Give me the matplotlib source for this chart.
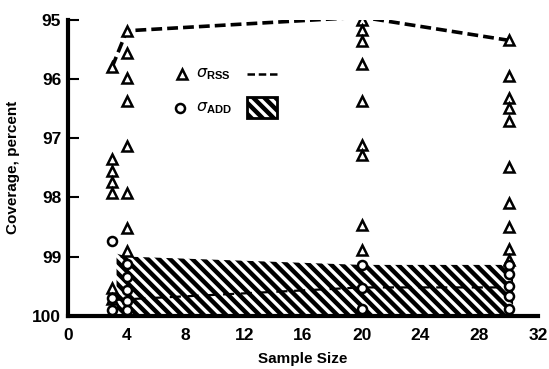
import matplotlib
matplotlib.use("Agg")
import matplotlib.pyplot as plt
from matplotlib.patches import Rectangle

plt.rcParams['font.family'] = ['Liberation Sans Narrow', 'Liberation Sans', 'DejaVu Sans']
plt.rcParams['mathtext.fontset'] = 'custom'
plt.rcParams['mathtext.rm'] = 'Liberation Sans'
plt.rcParams['mathtext.bf'] = 'Liberation Sans:bold'
plt.rcParams['hatch.linewidth'] = 3.2

# sigma_RSS points (triangles)
rss_x = [3] * 7 + [4] * 8 + [20] * 9 + [30] * 10
rss_y = [95.80, 97.35, 97.55, 97.74, 97.92, 99.53, 99.72,
         95.19, 95.57, 95.99, 96.37, 97.13, 97.92, 98.52, 98.90,
         95.00, 95.18, 95.37, 95.75, 96.37, 97.12, 97.28, 98.47, 98.89,
         95.35, 95.95, 96.32, 96.50, 96.72, 97.48, 98.10, 98.50, 98.88, 99.05]

# sigma_ADD points (circles)
add_x = [3] * 3 + [4] * 5 + [20] * 3 + [30] * 5
add_y = [98.74, 99.70, 99.90,
         99.12, 99.34, 99.56, 99.75, 99.90,
         99.14, 99.53, 99.88,
         99.15, 99.30, 99.50, 99.66, 99.88]

# dashed sigma_RSS envelope
rss_line_x = [3, 4, 20, 30]
rss_line_y = [95.80, 95.19, 94.96, 95.35]

# hatched sigma_ADD band and its inner dashed line
band_x = [3.3, 4, 20, 30.3]
band_top = [98.95, 99.00, 99.14, 99.14]
band_mid = [99.73, 99.72, 99.52, 99.52]

fig = plt.figure(figsize=(5.49, 3.69), dpi=100)
ax = fig.add_axes([0.124, 0.144, 0.856, 0.803])

ax.fill_between(band_x, band_top, 100, facecolor='white', edgecolor='black',
                hatch='\\\\\\', linewidth=0)
ax.plot(band_x, band_mid, color='black', lw=1.6, ls=(0, (5, 3)))
ax.plot(rss_line_x, rss_line_y, color='black', lw=2.6, ls=(0, (3, 1.4)))
ax.plot(rss_x, rss_y, ls='none', marker='^', ms=7, mfc='white', mec='black', mew=1.8)
ax.plot(add_x, add_y, ls='none', marker='o', ms=6.5, mfc='white', mec='black', mew=1.8)

# legend
ax.plot([0.243], [0.816], transform=ax.transAxes, marker='^', ms=7, mfc='white',
        mec='black', mew=1.8, clip_on=False)
ax.text(0.272, 0.816, r'$\sigma_{\mathbf{RSS}}$', transform=ax.transAxes,
        va='center', ha='left', fontsize=11.5)
ax.plot([0.381, 0.447], [0.816, 0.816], transform=ax.transAxes, color='black',
        lw=1.8, ls=(0, (3, 1.5)))
ax.plot([0.238], [0.702], transform=ax.transAxes, marker='o', ms=6.5, mfc='white',
        mec='black', mew=1.8, clip_on=False)
ax.text(0.272, 0.700, r'$\sigma_{\mathbf{ADD}}$', transform=ax.transAxes,
        va='center', ha='left', fontsize=11.5)
ax.add_patch(Rectangle((0.381, 0.668), 0.064, 0.071, transform=ax.transAxes,
                       facecolor='white', edgecolor='black', lw=2, hatch='\\\\\\'))

ax.set_xlim(0, 32)
ax.set_ylim(100, 95)
ax.set_xticks(range(0, 33, 4))
ax.set_yticks(range(95, 101))
ax.set_xticks([32], minor=True)
ax.tick_params(axis='x', which='major', length=0, pad=9, labelsize=12.5)
ax.tick_params(axis='x', which='minor', direction='in', length=6, width=1.5)
ax.tick_params(axis='y', direction='in', length=8, width=1.5, pad=5, labelsize=12.5)
for lab in ax.get_xticklabels() + ax.get_yticklabels():
    lab.set_fontweight('bold')

for s in ['top', 'right']:
    ax.spines[s].set_visible(False)
for s in ['left', 'bottom']:
    ax.spines[s].set_linewidth(3)

ax.set_xlabel('Sample Size', fontsize=11, fontweight='bold', labelpad=6)
ax.set_ylabel('Coverage, percent', fontsize=11, fontweight='bold', labelpad=9)

fig.savefig('out.png', dpi=100)
